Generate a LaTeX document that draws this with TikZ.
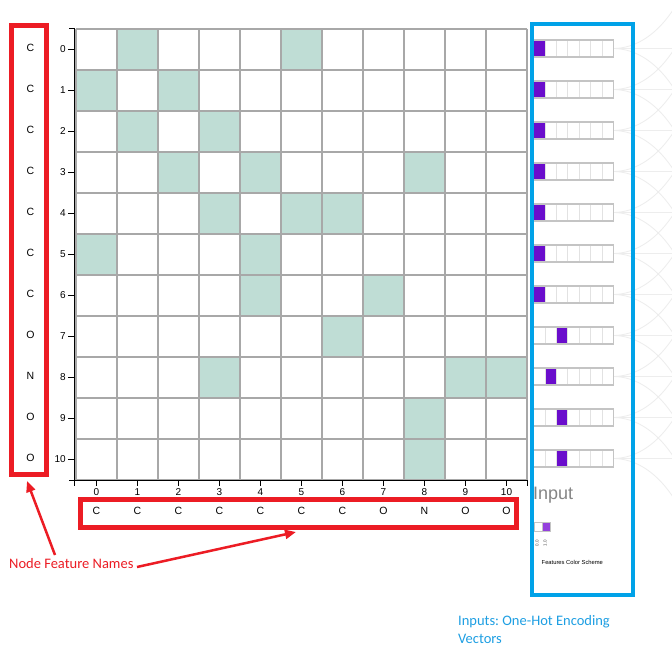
\documentclass[tikz,border=0pt]{standalone}
\usepackage{fontspec}
\setmainfont{Liberation Sans}
\newfontfamily\calibri{Carlito}
\usetikzlibrary{arrows.meta}
\frenchspacing
\definecolor{cellfill}{HTML}{BFDDD5}
\definecolor{gridgray}{HTML}{A8A8A8}
\definecolor{redbox}{HTML}{EC1C24}
\definecolor{bluebox}{HTML}{00A2E8}
\definecolor{bluetext}{HTML}{1E9FE3}
\definecolor{hot}{HTML}{6A0DCC}
\definecolor{hotlight}{HTML}{9440DD}
\definecolor{vecgray}{HTML}{C4C4C4}
\definecolor{vecinner}{HTML}{E2E2E2}
\definecolor{faintline}{HTML}{EDEDED}
\definecolor{inputgray}{HTML}{858585}
\tikzset{
  gridline/.style={draw=gridgray, line width=1.5pt},
  axisline/.style={draw=black, line width=1pt},
  axislabel/.style={font=\fontsize{10}{11}\selectfont, inner sep=1pt},
  featlabel/.style={font=\fontsize{10.5}{11}\selectfont, inner sep=1pt},
  redframe/.style={draw=redbox, line width=5pt},
  blueframe/.style={draw=bluebox, line width=3.5pt},
  redarrow/.style={draw=redbox, line width=2.5pt, -{Triangle[length=11pt,width=9pt]}},
  vecbox/.style={draw=vecgray, line width=1.7pt, minimum width=80pt, minimum height=17pt, inner sep=0pt},
  faint/.style={draw=faintline, line width=0.8pt},
}
\begin{document}
\begin{tikzpicture}[x=1pt,y=-1pt]
\useasboundingbox (0,0) rectangle (672,660);
\fill[white] (0,0) rectangle (672,660);

% adjacency cells
\foreach \r/\cols in {0/{1,5},1/{0,2},2/{1,3},3/{2,4,8},4/{3,5,6},5/{0,4},6/{4,7},7/{6},8/{3,9,10},9/{8},10/{8}}{
  \foreach \c in \cols {
    \fill[cellfill] ({76+41*\c},{29+41*\r}) rectangle ++(41,41);
  }
}
% grid lines
\foreach \i in {0,...,11}{
  \draw[gridline] ({76+41*\i},29) -- ({76+41*\i},480);
  \draw[gridline] (76,{29+41*\i}) -- (527,{29+41*\i});
}

% axes
\draw[axisline] (69,29) -- (74,29) -- (74,480) -- (527,480) -- (527,486);
\draw[axisline] (74,480) -- (74,486);
\draw[axisline] (69,480) -- (74,480);
\foreach \i in {0,...,10}{
  \draw[axisline] (68,{49.5+41*\i}) -- (74,{49.5+41*\i});
  \node[axislabel, anchor=east] (yl\i) at (67,{49.5+41*\i}) {\i};
  \draw[axisline] ({96.5+41*\i},480) -- ({96.5+41*\i},486);
  \node[axislabel, anchor=north] (xl\i) at ({96.5+41*\i},487) {\i};
}

% feature names
\foreach \i/\f in {0/C,1/C,2/C,3/C,4/C,5/C,6/C,7/O,8/N,9/O,10/O}{
  \node[featlabel] (lf\i) at (30.5,{47.5+41*\i}) {\f};
  \node[featlabel] (bf\i) at ({96.5+41*\i},511) {\f};
}

% red frames
\node[redframe, minimum width=35pt, minimum height=449pt, inner sep=0pt] (leftbox) at (28.5,250) {};
\node[redframe, minimum width=436pt, minimum height=28pt, inner sep=0pt] (bottombox) at (298,513) {};

% red label and arrows
\node[font=\calibri\fontsize{14.5}{16}\selectfont, text=redbox, anchor=west, inner sep=0pt] (nfn) at (9,564) {Node Feature Names};
\coordinate (a1s) at (55,555);
\coordinate (a1e) at (27,481);
\coordinate (a2s) at (137,567);
\coordinate (a2e) at (296,532);
\draw[redarrow] (a1s) -- (a1e);
\draw[redarrow] (a2s) -- (a2e);

% faint network lines (behind)
\begin{scope}
\clip (0,0) rectangle (672,660);
\foreach \i in {0,...,10}{
  \coordinate (fs\i) at (613,{48.5+41*\i});
  \coordinate (fh\i) at (690,{48.5+41*\i});
  \coordinate (fd\i) at (705,{48.5+41*\i+150});
  \coordinate (fu\i) at (705,{48.5+41*\i-150});
  \draw[faint] (fs\i) -- (fh\i);
  \draw[faint] (fs\i) .. controls (660,{48.5+41*\i}) and (700,{48.5+41*\i+60}) .. (fd\i);
  \draw[faint] (fs\i) .. controls (660,{48.5+41*\i}) and (700,{48.5+41*\i-60}) .. (fu\i);
}
\end{scope}

% one-hot vectors
\foreach \r/\k in {0/0,1/0,2/0,3/0,4/0,5/0,6/0,7/2,8/1,9/2,10/2}{
  \node[vecbox, fill=white] (vec\r) at (573.5,{48.5+41*\r}) {};
  \fill[hot] ({533.5+80/7*\k},{40+41*\r}) rectangle ++({80/7},17);
  \foreach \j in {1,...,6}{
    \draw[draw=vecinner, line width=0.8pt] ({533.5+80/7*\j},{40.7+41*\r}) -- ({533.5+80/7*\j},{56.3+41*\r});
  }
  \draw[vecbox] ({533.5},{40+41*\r}) rectangle ++(80,17);
}

% legend
\node[font=\fontsize{18}{19}\selectfont, text=inputgray, anchor=west, inner sep=0pt] (inputlbl) at (533,495) {Input};
\node[draw=vecgray, line width=0.6pt, fill=white, minimum width=8pt, minimum height=9pt, inner sep=0pt] (leg0) at (538,527) {};
\node[draw=vecgray, line width=0.6pt, fill=hotlight, minimum width=8pt, minimum height=9pt, inner sep=0pt] (leg1) at (546,527) {};
\node[font=\fontsize{4.5}{5}\selectfont, text=black!70, rotate=90, inner sep=0pt] (legt0) at (537,543) {0.0};
\node[font=\fontsize{4.5}{5}\selectfont, text=black!70, rotate=90, inner sep=0pt] (legt1) at (545,543) {1.0};
\node[font=\fontsize{5.8}{6}\selectfont, anchor=west, inner sep=0pt] (fcs) at (541.5,562) {Features Color Scheme};

% blue frame
\node[blueframe, minimum width=101pt, minimum height=571pt, inner sep=0pt] (bluebox) at (582.5,309.5) {};

% blue label
\node[font=\calibri\fontsize{14.5}{18}\selectfont, text=bluetext, anchor=north west, align=left, inner sep=0pt] (bluelbl) at (458,615) {Inputs: One-Hot Encoding\\Vectors};
\end{tikzpicture}
\end{document}
